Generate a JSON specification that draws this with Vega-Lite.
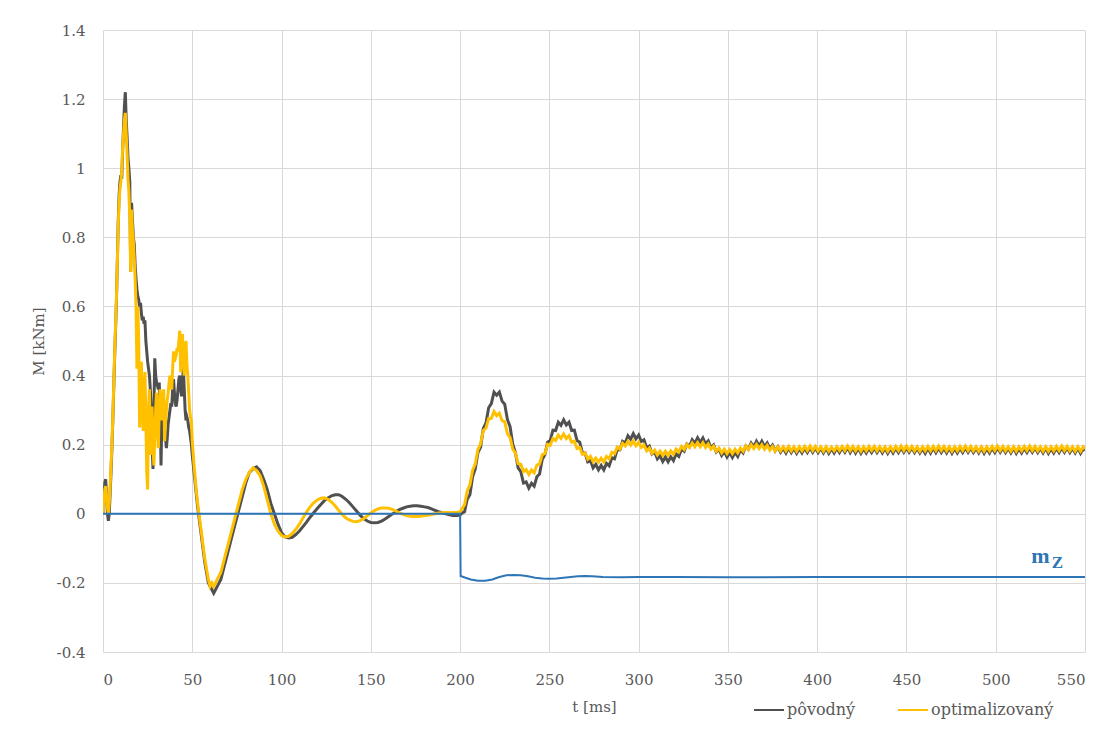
{
"$schema":"https://vega.github.io/schema/vega-lite/v6.json",
"width":982,"height":622,
"autosize":{"type":"none"},
"padding":{"left":103,"top":30,"right":26,"bottom":77},
"background":"white",
"config":{"view":{"stroke":null},"font":"DejaVu Serif",
 "axis":{"labelFont":"DejaVu Serif","titleFont":"DejaVu Serif"},
 "legend":{"labelFont":"DejaVu Serif"},
 "text":{"font":"Liberation Serif"}},
"datasets":{
"main":[
{"t":0,"a":0,"b":0},{"t":0.5,"a":0.04,"b":0.03},{"t":1,"a":0.09,"b":0.07},{"t":1.5,"a":0.1,"b":0.08},{"t":2,"a":0.05,"b":0.05},{"t":2.5,"a":0.0,"b":0.02},{"t":3,"a":-0.02,"b":0.0},{"t":3.5,"a":0.0,"b":0.03},{"t":4,"a":0.06,"b":0.08},{"t":4.5,"a":0.12,"b":0.14},
{"t":5,"a":0.19,"b":0.2},{"t":5.5,"a":0.27,"b":0.28},{"t":6,"a":0.36,"b":0.37},{"t":6.5,"a":0.45,"b":0.46},{"t":7,"a":0.53,"b":0.54},{"t":7.5,"a":0.61,"b":0.62},{"t":8,"a":0.72,"b":0.72},{"t":8.5,"a":0.84,"b":0.83},{"t":9,"a":0.92,"b":0.9},{"t":9.5,"a":0.96,"b":0.94},
{"t":10,"a":0.98,"b":0.96},{"t":10.5,"a":0.97,"b":0.99},{"t":11,"a":1.05,"b":1.06},{"t":11.5,"a":1.12,"b":1.1},{"t":12,"a":1.18,"b":1.14},{"t":12.5,"a":1.22,"b":1.16},{"t":13,"a":1.14,"b":1.1},{"t":13.5,"a":1.09,"b":1.04},{"t":14,"a":1.03,"b":0.97},{"t":14.5,"a":1.0,"b":0.93},
{"t":15,"a":0.96,"b":0.86},{"t":15.5,"a":0.7,"b":0.7},{"t":16,"a":0.9,"b":0.88},{"t":16.5,"a":0.85,"b":0.82},{"t":17,"a":0.8,"b":0.79},{"t":17.5,"a":0.78,"b":0.74},{"t":18,"a":0.72,"b":0.68},{"t":18.5,"a":0.68,"b":0.6},{"t":19,"a":0.65,"b":0.42},{"t":19.5,"a":0.63,"b":0.6},
{"t":20,"a":0.62,"b":0.5},{"t":20.5,"a":0.6,"b":0.25},{"t":21,"a":0.61,"b":0.38},{"t":21.5,"a":0.58,"b":0.44},{"t":22,"a":0.56,"b":0.3},{"t":22.5,"a":0.57,"b":0.24},{"t":23,"a":0.55,"b":0.35},{"t":23.5,"a":0.56,"b":0.41},{"t":24,"a":0.5,"b":0.28},{"t":24.5,"a":0.47,"b":0.12},
{"t":25,"a":0.44,"b":0.07},{"t":25.5,"a":0.42,"b":0.3},{"t":26,"a":0.4,"b":0.36},{"t":26.5,"a":0.36,"b":0.17},{"t":27,"a":0.3,"b":0.25},{"t":27.5,"a":0.2,"b":0.31},{"t":28,"a":0.13,"b":0.2},{"t":28.5,"a":0.3,"b":0.14},{"t":29,"a":0.45,"b":0.22},{"t":29.5,"a":0.4,"b":0.3},
{"t":30,"a":0.38,"b":0.35},{"t":30.5,"a":0.37,"b":0.25},{"t":31,"a":0.36,"b":0.19},{"t":31.5,"a":0.38,"b":0.3},{"t":32,"a":0.3,"b":0.36},{"t":32.5,"a":0.14,"b":0.3},{"t":33,"a":0.28,"b":0.27},{"t":33.5,"a":0.33,"b":0.33},{"t":34,"a":0.3,"b":0.36},{"t":34.5,"a":0.24,"b":0.21},
{"t":35,"a":0.22,"b":0.26},{"t":35.5,"a":0.19,"b":0.3},{"t":36,"a":0.22,"b":0.33},{"t":36.5,"a":0.26,"b":0.35},{"t":37,"a":0.28,"b":0.38},{"t":37.5,"a":0.3,"b":0.4},{"t":38,"a":0.32,"b":0.37},{"t":38.5,"a":0.31,"b":0.36},{"t":39,"a":0.36,"b":0.42},{"t":39.5,"a":0.39,"b":0.47},
{"t":40,"a":0.35,"b":0.44},{"t":40.5,"a":0.32,"b":0.45},{"t":41,"a":0.31,"b":0.46},{"t":41.5,"a":0.33,"b":0.48},{"t":42,"a":0.36,"b":0.47},{"t":42.5,"a":0.39,"b":0.5},{"t":43,"a":0.4,"b":0.53},{"t":43.5,"a":0.36,"b":0.41},{"t":44,"a":0.34,"b":0.47},{"t":44.5,"a":0.38,"b":0.52},
{"t":45,"a":0.42,"b":0.45},{"t":45.5,"a":0.36,"b":0.4},{"t":46,"a":0.3,"b":0.47},{"t":46.5,"a":0.27,"b":0.5},{"t":47,"a":0.28,"b":0.43},{"t":47.5,"a":0.27,"b":0.4},{"t":48,"a":0.25,"b":0.35},{"t":48.5,"a":0.24,"b":0.3},{"t":49,"a":0.22,"b":0.28},{"t":49.5,"a":0.2,"b":0.27},
{"t":50,"a":0.17,"b":0.21},{"t":51,"a":0.12,"b":0.14},{"t":52,"a":0.07,"b":0.08},{"t":53,"a":0.02,"b":0.03},{"t":54,"a":-0.02,"b":-0.01},{"t":55,"a":-0.06,"b":-0.05},{"t":56,"a":-0.1,"b":-0.09},{"t":57,"a":-0.14,"b":-0.13},{"t":58,"a":-0.17,"b":-0.16},{"t":59,"a":-0.2,"b":-0.19},
{"t":60,"a":-0.21,"b":-0.21},{"t":61,"a":-0.22,"b":-0.2},{"t":62,"a":-0.23,"b":-0.21},{"t":63,"a":-0.22,"b":-0.2},{"t":64,"a":-0.21,"b":-0.19},{"t":65,"a":-0.2,"b":-0.18},{"t":66,"a":-0.19,"b":-0.17},
{"t":68,"a":-0.15,"b":-0.13},{"t":70,"a":-0.11,"b":-0.09},{"t":72,"a":-0.07,"b":-0.05},{"t":74,"a":-0.03,"b":-0.01},{"t":76,"a":0.01,"b":0.03},{"t":78,"a":0.05,"b":0.07},{"t":80,"a":0.09,"b":0.1},{"t":82,"a":0.12,"b":0.12},{"t":84,"a":0.13,"b":0.133},{"t":86,"a":0.136,"b":0.125},
{"t":88,"a":0.125,"b":0.11},{"t":90,"a":0.1,"b":0.08},{"t":92,"a":0.07,"b":0.04},{"t":94,"a":0.03,"b":0.0},{"t":96,"a":0.0,"b":-0.03},{"t":98,"a":-0.03,"b":-0.05},{"t":100,"a":-0.055,"b":-0.063},{"t":102,"a":-0.067,"b":-0.067},{"t":104,"a":-0.07,"b":-0.065},{"t":106,"a":-0.068,"b":-0.057},
{"t":108,"a":-0.06,"b":-0.045},{"t":110,"a":-0.05,"b":-0.03},{"t":112,"a":-0.037,"b":-0.012},{"t":114,"a":-0.024,"b":0.005},{"t":116,"a":-0.01,"b":0.02},{"t":118,"a":0.003,"b":0.032},{"t":120,"a":0.015,"b":0.04},{"t":122,"a":0.027,"b":0.045},{"t":124,"a":0.038,"b":0.046},{"t":126,"a":0.046,"b":0.042},
{"t":128,"a":0.052,"b":0.034},{"t":130,"a":0.055,"b":0.023},{"t":132,"a":0.055,"b":0.01},{"t":134,"a":0.05,"b":-0.002},{"t":136,"a":0.042,"b":-0.012},{"t":138,"a":0.032,"b":-0.018},{"t":140,"a":0.02,"b":-0.022},{"t":142,"a":0.008,"b":-0.023},{"t":144,"a":-0.004,"b":-0.02},{"t":146,"a":-0.014,"b":-0.014},
{"t":148,"a":-0.021,"b":-0.006},{"t":150,"a":-0.025,"b":0.002},{"t":152,"a":-0.026,"b":0.009},{"t":154,"a":-0.025,"b":0.014},{"t":156,"a":-0.021,"b":0.017},{"t":158,"a":-0.015,"b":0.017},{"t":160,"a":-0.008,"b":0.016},{"t":162,"a":-0.001,"b":0.013},{"t":164,"a":0.006,"b":0.008},{"t":166,"a":0.012,"b":0.003},
{"t":168,"a":0.016,"b":-0.002},{"t":170,"a":0.02,"b":-0.005},{"t":172,"a":0.022,"b":-0.007},{"t":174,"a":0.023,"b":-0.008},{"t":176,"a":0.023,"b":-0.008},{"t":178,"a":0.022,"b":-0.007},{"t":180,"a":0.02,"b":-0.005},{"t":182,"a":0.018,"b":-0.004},{"t":184,"a":0.014,"b":-0.002},{"t":186,"a":0.01,"b":0.0},
{"t":188,"a":0.006,"b":0.002},{"t":190,"a":0.003,"b":0.003},{"t":192,"a":0.0,"b":0.004},{"t":194,"a":-0.003,"b":0.004},{"t":196,"a":-0.005,"b":0.004},{"t":198,"a":-0.005,"b":0.004},{"t":200,"a":-0.004,"b":0.006},
{"t":201,"a":0.002,"b":0.014},{"t":202.5,"a":0.006,"b":0.026},{"t":204,"a":0.042,"b":0.066},{"t":205.5,"a":0.055,"b":0.084},{"t":207,"a":0.107,"b":0.126},{"t":208.5,"a":0.13,"b":0.144},{"t":210,"a":0.177,"b":0.186},{"t":211.5,"a":0.193,"b":0.203},{"t":213,"a":0.247,"b":0.241},{"t":214.5,"a":0.263,"b":0.248},
{"t":216,"a":0.307,"b":0.276},{"t":217.5,"a":0.319,"b":0.276},{"t":219,"a":0.352,"b":0.296},{"t":220.5,"a":0.343,"b":0.284},{"t":222,"a":0.352,"b":0.291},{"t":223.5,"a":0.326,"b":0.27},{"t":225,"a":0.317,"b":0.266},{"t":226.5,"a":0.273,"b":0.232},{"t":228,"a":0.252,"b":0.221},{"t":229.5,"a":0.201,"b":0.187},
{"t":231,"a":0.177,"b":0.176},{"t":232.5,"a":0.133,"b":0.145},{"t":234,"a":0.122,"b":0.143},{"t":235.5,"a":0.089,"b":0.122},{"t":237,"a":0.092,"b":0.128},{"t":238.5,"a":0.074,"b":0.114},{"t":240,"a":0.088,"b":0.127},{"t":241.5,"a":0.08,"b":0.119},{"t":243,"a":0.107,"b":0.141},{"t":244.5,"a":0.115,"b":0.144},
{"t":246,"a":0.157,"b":0.171},{"t":247.5,"a":0.171,"b":0.174},{"t":249,"a":0.207,"b":0.201},{"t":250.5,"a":0.212,"b":0.198},{"t":252,"a":0.242,"b":0.218},{"t":253.5,"a":0.241,"b":0.212},{"t":255,"a":0.265,"b":0.228},{"t":256.5,"a":0.256,"b":0.218},{"t":258,"a":0.272,"b":0.231},{"t":259.5,"a":0.257,"b":0.218},
{"t":261,"a":0.265,"b":0.226},{"t":262.5,"a":0.241,"b":0.207},{"t":264,"a":0.242,"b":0.21},{"t":265.5,"a":0.212,"b":0.189},{"t":267,"a":0.207,"b":0.192},{"t":268.5,"a":0.176,"b":0.172},{"t":270,"a":0.176,"b":0.176},{"t":271.5,"a":0.15,"b":0.158},{"t":273,"a":0.154,"b":0.166},{"t":274.5,"a":0.133,"b":0.151},
{"t":276,"a":0.143,"b":0.161},{"t":277.5,"a":0.127,"b":0.149},{"t":279,"a":0.14,"b":0.161},{"t":280.5,"a":0.127,"b":0.15},{"t":282,"a":0.146,"b":0.166},{"t":283.5,"a":0.139,"b":0.159},{"t":285,"a":0.162,"b":0.178},{"t":286.5,"a":0.159,"b":0.174},{"t":288,"a":0.186,"b":0.193},{"t":289.5,"a":0.185,"b":0.187},
{"t":291,"a":0.21,"b":0.204},{"t":292.5,"a":0.205,"b":0.196},{"t":294,"a":0.226,"b":0.21},{"t":295.5,"a":0.216,"b":0.199},{"t":297,"a":0.232,"b":0.211},{"t":298.5,"a":0.217,"b":0.197},{"t":300,"a":0.228,"b":0.207},{"t":301.5,"a":0.209,"b":0.192},{"t":303,"a":0.214,"b":0.199},{"t":304.5,"a":0.191,"b":0.182},
{"t":306,"a":0.196,"b":0.19},{"t":307.5,"a":0.173,"b":0.175},{"t":309,"a":0.179,"b":0.184},{"t":310.5,"a":0.159,"b":0.17},{"t":312,"a":0.168,"b":0.181},{"t":313.5,"a":0.151,"b":0.169},{"t":315,"a":0.164,"b":0.181},{"t":316.5,"a":0.15,"b":0.169},{"t":318,"a":0.165,"b":0.182},{"t":319.5,"a":0.154,"b":0.172},
{"t":321,"a":0.173,"b":0.187},{"t":322.5,"a":0.166,"b":0.179},{"t":324,"a":0.187,"b":0.195},{"t":325.5,"a":0.181,"b":0.186},{"t":327,"a":0.202,"b":0.201},{"t":328.5,"a":0.195,"b":0.192},{"t":330,"a":0.214,"b":0.205},{"t":331.5,"a":0.204,"b":0.194},{"t":333,"a":0.22,"b":0.206},{"t":334.5,"a":0.206,"b":0.194},
{"t":336,"a":0.219,"b":0.206},{"t":337.5,"a":0.202,"b":0.192},{"t":339,"a":0.211,"b":0.202},{"t":340.5,"a":0.191,"b":0.187},{"t":342,"a":0.199,"b":0.196},{"t":343.5,"a":0.179,"b":0.181},{"t":345,"a":0.187,"b":0.19},{"t":346.5,"a":0.169,"b":0.176},{"t":348,"a":0.18,"b":0.187},{"t":349.5,"a":0.164,"b":0.174},
{"t":351,"a":0.177,"b":0.186},{"t":352.5,"a":0.163,"b":0.174},{"t":354,"a":0.178,"b":0.187},{"t":355.5,"a":0.166,"b":0.176},{"t":357,"a":0.185,"b":0.19},{"t":358.5,"a":0.176,"b":0.181},{"t":360,"a":0.196,"b":0.196},{"t":361.5,"a":0.187,"b":0.186},{"t":363,"a":0.205,"b":0.2},{"t":364.5,"a":0.194,"b":0.189},
{"t":366,"a":0.21,"b":0.201},{"t":367.5,"a":0.196,"b":0.189},{"t":369,"a":0.21,"b":0.2},{"t":370.5,"a":0.194,"b":0.187},{"t":372,"a":0.205,"b":0.198},{"t":373.5,"a":0.189,"b":0.184},{"t":375,"a":0.199,"b":0.195},{"t":376.5,"a":0.182,"b":0.182},{"t":378,"a":0.194,"b":0.194},{"t":379.5,"a":0.178,"b":0.182},
{"t":381,"a":0.19,"b":0.194},{"t":382.5,"a":0.176,"b":0.182},{"t":384,"a":0.191,"b":0.195},{"t":385.5,"a":0.177,"b":0.182},{"t":387,"a":0.19,"b":0.194},{"t":388.5,"a":0.175,"b":0.181},{"t":390,"a":0.189,"b":0.194},{"t":391.5,"a":0.176,"b":0.182},{"t":393,"a":0.19,"b":0.195},{"t":394.5,"a":0.177,"b":0.183},
{"t":396,"a":0.191,"b":0.196},{"t":397.5,"a":0.178,"b":0.183},{"t":399,"a":0.191,"b":0.195},{"t":400.5,"a":0.177,"b":0.182},{"t":402,"a":0.19,"b":0.194},{"t":403.5,"a":0.176,"b":0.181},{"t":405,"a":0.19,"b":0.194},{"t":406.5,"a":0.175,"b":0.181},{"t":408,"a":0.189,"b":0.193},{"t":409.5,"a":0.176,"b":0.182},
{"t":411,"a":0.19,"b":0.194},{"t":412.5,"a":0.177,"b":0.183},{"t":414,"a":0.191,"b":0.195},{"t":415.5,"a":0.178,"b":0.183},{"t":417,"a":0.192,"b":0.196},{"t":418.5,"a":0.177,"b":0.183},{"t":420,"a":0.191,"b":0.195},{"t":421.5,"a":0.176,"b":0.182},{"t":423,"a":0.19,"b":0.194},{"t":424.5,"a":0.175,"b":0.181},
{"t":426,"a":0.189,"b":0.194},{"t":427.5,"a":0.176,"b":0.182},{"t":429,"a":0.19,"b":0.195},{"t":430.5,"a":0.177,"b":0.183},{"t":432,"a":0.191,"b":0.195},{"t":433.5,"a":0.177,"b":0.182},{"t":435,"a":0.19,"b":0.194},{"t":436.5,"a":0.176,"b":0.182},{"t":438,"a":0.19,"b":0.194},{"t":439.5,"a":0.175,"b":0.181},
{"t":441,"a":0.189,"b":0.194},{"t":442.5,"a":0.176,"b":0.182},{"t":444,"a":0.19,"b":0.195},{"t":445.5,"a":0.177,"b":0.183},{"t":447,"a":0.191,"b":0.196},{"t":448.5,"a":0.178,"b":0.183},{"t":450,"a":0.192,"b":0.196},{"t":451.5,"a":0.178,"b":0.183},{"t":453,"a":0.191,"b":0.195},{"t":454.5,"a":0.177,"b":0.182},
{"t":456,"a":0.19,"b":0.194},{"t":457.5,"a":0.176,"b":0.181},{"t":459,"a":0.189,"b":0.194},{"t":460.5,"a":0.175,"b":0.182},{"t":462,"a":0.19,"b":0.195},{"t":463.5,"a":0.176,"b":0.182},{"t":465,"a":0.191,"b":0.195},{"t":466.5,"a":0.177,"b":0.183},{"t":468,"a":0.191,"b":0.196},{"t":469.5,"a":0.177,"b":0.183},
{"t":471,"a":0.19,"b":0.195},{"t":472.5,"a":0.176,"b":0.182},{"t":474,"a":0.19,"b":0.194},{"t":475.5,"a":0.175,"b":0.181},{"t":477,"a":0.189,"b":0.194},{"t":478.5,"a":0.176,"b":0.182},{"t":480,"a":0.19,"b":0.195},{"t":481.5,"a":0.177,"b":0.183},{"t":483,"a":0.191,"b":0.196},{"t":484.5,"a":0.178,"b":0.183},
{"t":486,"a":0.191,"b":0.195},{"t":487.5,"a":0.177,"b":0.182},{"t":489,"a":0.19,"b":0.194},{"t":490.5,"a":0.176,"b":0.181},{"t":492,"a":0.19,"b":0.194},{"t":493.5,"a":0.175,"b":0.181},{"t":495,"a":0.189,"b":0.194},{"t":496.5,"a":0.176,"b":0.182},{"t":498,"a":0.19,"b":0.195},{"t":499.5,"a":0.177,"b":0.183},
{"t":501,"a":0.191,"b":0.196},{"t":502.5,"a":0.178,"b":0.183},{"t":504,"a":0.191,"b":0.195},{"t":505.5,"a":0.177,"b":0.182},{"t":507,"a":0.19,"b":0.194},{"t":508.5,"a":0.176,"b":0.181},{"t":510,"a":0.19,"b":0.194},{"t":511.5,"a":0.175,"b":0.181},{"t":513,"a":0.189,"b":0.194},{"t":514.5,"a":0.176,"b":0.182},
{"t":516,"a":0.19,"b":0.195},{"t":517.5,"a":0.177,"b":0.183},{"t":519,"a":0.191,"b":0.196},{"t":520.5,"a":0.178,"b":0.183},{"t":522,"a":0.191,"b":0.195},{"t":523.5,"a":0.177,"b":0.182},{"t":525,"a":0.19,"b":0.194},{"t":526.5,"a":0.176,"b":0.181},{"t":528,"a":0.19,"b":0.194},{"t":529.5,"a":0.175,"b":0.181},
{"t":531,"a":0.189,"b":0.194},{"t":532.5,"a":0.176,"b":0.182},{"t":534,"a":0.19,"b":0.195},{"t":535.5,"a":0.177,"b":0.183},{"t":537,"a":0.191,"b":0.196},{"t":538.5,"a":0.178,"b":0.183},{"t":540,"a":0.191,"b":0.195},{"t":541.5,"a":0.177,"b":0.182},{"t":543,"a":0.19,"b":0.194},{"t":544.5,"a":0.176,"b":0.181},
{"t":546,"a":0.19,"b":0.194},{"t":547.5,"a":0.175,"b":0.181},{"t":549,"a":0.189,"b":0.194},{"t":550,"a":0.183,"b":0.188}
],
"mz":[
{"t":0,"v":0},{"t":200,"v":0},{"t":200.3,"v":-0.18},{"t":203,"v":-0.185},{"t":206,"v":-0.19},{"t":210,"v":-0.194},{"t":214,"v":-0.194},{"t":218,"v":-0.19},{"t":222,"v":-0.183},{"t":226,"v":-0.178},{"t":230,"v":-0.177},{"t":234,"v":-0.178},{"t":238,"v":-0.181},{"t":242,"v":-0.185},{"t":246,"v":-0.187},{"t":250,"v":-0.188},{"t":254,"v":-0.187},{"t":258,"v":-0.185},{"t":262,"v":-0.183},{"t":266,"v":-0.181},{"t":270,"v":-0.18},{"t":274,"v":-0.181},{"t":280,"v":-0.183},{"t":290,"v":-0.184},{"t":300,"v":-0.183},{"t":320,"v":-0.183},{"t":350,"v":-0.184},{"t":400,"v":-0.183},{"t":450,"v":-0.183},{"t":500,"v":-0.183},{"t":550,"v":-0.183}
]
},
"layer":[
{"data":{"name":"main"},
 "transform":[{"fold":["a","b"],"as":["s","v"]}],
 "mark":{"type":"line","strokeWidth":3,"clip":true},
 "encoding":{
  "x":{"field":"t","type":"quantitative","scale":{"domain":[0,550],"nice":false,"zero":false},
   "axis":{"values":[0,50,100,150,200,250,300,350,400,450,500,550],"grid":true,"gridColor":"#d9d9d9","domain":false,"ticks":false,"labelFontSize":15,"labelColor":"#595959","labelFont":"DejaVu Serif","labelPadding":20,"title":"t [ms]","titleFont":"DejaVu Serif","titleFontSize":15,"titleFontWeight":"normal","titleColor":"#595959","titlePadding":12}},
  "y":{"field":"v","type":"quantitative","scale":{"domain":[-0.4,1.4],"nice":false,"zero":false},
   "axis":{"values":[-0.4,-0.2,0,0.2,0.4,0.6,0.8,1,1.2,1.4],"labelExpr":"'' + datum.value","grid":true,"gridColor":"#d9d9d9","domain":false,"ticks":false,"labelFontSize":15,"labelColor":"#595959","labelFont":"DejaVu Serif","labelPadding":18,"title":"M [kNm]","titleFont":"DejaVu Serif","titleFontSize":15,"titleFontWeight":"normal","titleColor":"#595959","titlePadding":10}},
  "color":{"field":"s","type":"nominal","scale":{"domain":["a","b"],"range":["#505050","#FFC000"]},
   "legend":{"orient":"none","legendX":650,"legendY":664,"direction":"horizontal","title":null,"symbolType":"stroke","symbolSize":900,"symbolStrokeWidth":2,"labelFontSize":16,"labelFont":"DejaVu Serif","labelColor":"#595959","labelOffset":2,"columnPadding":38,"padding":0,"labelExpr":"datum.label == 'a' ? 'pôvodný' : 'optimalizovaný'"}}
 }},
{"data":{"name":"mz"},
 "mark":{"type":"line","color":"#2e75b6","strokeWidth":2},
 "encoding":{"x":{"field":"t","type":"quantitative"},"y":{"field":"v","type":"quantitative"}}},
{"data":{"values":[{"t":525,"v":-0.142,"txt":"m"}]},
 "mark":{"type":"text","font":"Liberation Serif","fontSize":22,"fontWeight":"bold","color":"#2e75b6","baseline":"alphabetic","align":"center"},
 "encoding":{"x":{"field":"t","type":"quantitative"},"y":{"field":"v","type":"quantitative"},"text":{"field":"txt"}}},
{"data":{"values":[{"t":534.5,"v":-0.157,"txt":"Z"}]},
 "mark":{"type":"text","font":"Liberation Serif","fontSize":17,"fontWeight":"bold","color":"#2e75b6","baseline":"alphabetic","align":"center"},
 "encoding":{"x":{"field":"t","type":"quantitative"},"y":{"field":"v","type":"quantitative"},"text":{"field":"txt"}}}
]
}
